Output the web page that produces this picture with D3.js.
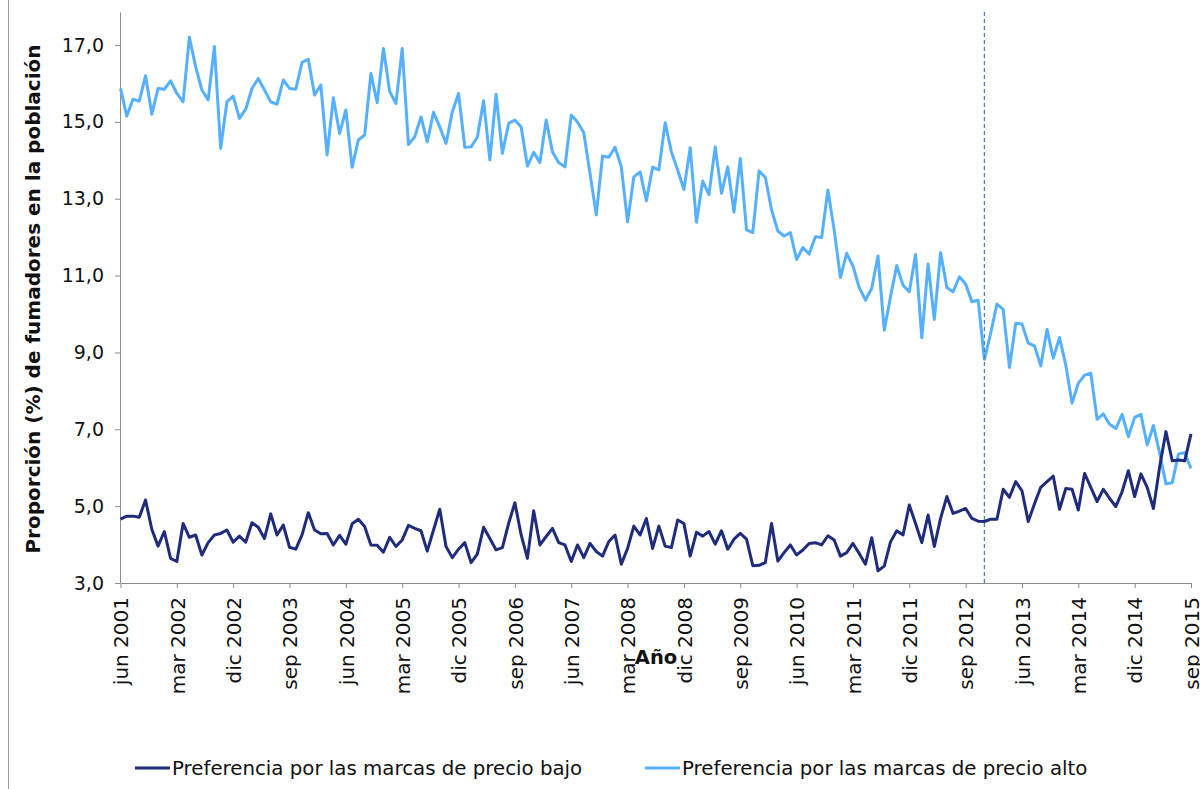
<!DOCTYPE html>
<html>
<head>
<meta charset="utf-8">
<script src="https://cdn.jsdelivr.net/npm/d3@7"></script>
<style>
  body { margin: 0; background: #fff; }
  svg { display: block; }
  text { font-family: "DejaVu Sans", Verdana, sans-serif; fill: #111; }
</style>
</head>
<body>
<svg id="chart" width="1200" height="789"></svg>
<script>
// Monthly series, jun 2001 to sep 2015
const monthNames = ["ene","feb","mar","abr","may","jun","jul","ago","sep","oct","nov","dic"];
const startYear = 2001;
const startMonthIndex = 5; // jun
const months = d3.range(172).map(i => {
  const m = startMonthIndex + i;
  return monthNames[m % 12] + " " + (startYear + Math.floor(m / 12));
});

const tickLabels = [
  "jun 2001","mar 2002","dic 2002","sep 2003","jun 2004","mar 2005","dic 2005",
  "sep 2006","jun 2007","mar 2008","dic 2008","sep 2009","jun 2010","mar 2011",
  "dic 2011","sep 2012","jun 2013","mar 2014","dic 2014","sep 2015"
];

const yTicks = [3, 5, 7, 9, 11, 13, 15, 17];

const markerMonth = "dic 2012";

const seriesNames = [
  "Preferencia por las marcas de precio bajo",
  "Preferencia por las marcas de precio alto"
];

// Low-price brand preference (%)
const precioBajo = [
  4.66,4.74,4.74,4.71,5.16,4.40,3.96,4.34,3.64,3.56,4.55,4.19,4.25,3.73,4.05,4.25,
  4.29,4.38,4.06,4.22,4.06,4.57,4.45,4.16,4.80,4.25,4.51,3.93,3.88,4.25,4.83,4.38,
  4.28,4.29,3.99,4.24,4.01,4.54,4.66,4.47,3.99,3.98,3.80,4.19,3.95,4.12,4.50,4.42,
  4.36,3.83,4.38,4.92,3.95,3.66,3.88,4.05,3.53,3.75,4.45,4.16,3.86,3.92,4.55,5.09,
  4.25,3.64,4.88,3.99,4.21,4.42,4.05,3.99,3.56,3.99,3.66,4.03,3.82,3.70,4.08,4.25,
  3.49,3.90,4.48,4.25,4.68,3.90,4.48,3.96,3.92,4.64,4.55,3.70,4.32,4.22,4.34,4.01,
  4.36,3.88,4.14,4.29,4.14,3.45,3.46,3.53,4.55,3.57,3.79,3.99,3.73,3.86,4.03,4.05,
  3.99,4.23,4.12,3.70,3.79,4.03,3.77,3.49,4.18,3.32,3.44,4.07,4.36,4.25,5.03,4.55,
  4.05,4.77,3.95,4.68,5.25,4.81,4.87,4.94,4.68,4.61,4.60,4.66,4.66,5.44,5.23,5.64,
  5.40,4.60,5.06,5.49,5.64,5.78,4.92,5.46,5.44,4.90,5.85,5.49,5.12,5.44,5.20,4.99,
  5.38,5.92,5.25,5.84,5.49,4.94,6.03,6.94,6.18,6.20,6.18,6.88
];

// High-price brand preference (%)
const precioAlto = [
  15.87,15.15,15.59,15.54,16.20,15.20,15.87,15.85,16.07,15.74,15.52,17.20,16.44,15.83,15.57,16.96,
  14.31,15.52,15.67,15.09,15.33,15.87,16.13,15.83,15.52,15.46,16.09,15.87,15.85,16.55,16.63,15.70,
  15.96,14.14,15.63,14.70,15.31,13.82,14.53,14.66,16.26,15.50,16.91,15.79,15.48,16.91,14.41,14.61,
  15.13,14.48,15.25,14.87,14.44,15.26,15.74,14.34,14.35,14.60,15.55,14.01,15.72,14.18,14.96,15.05,
  14.87,13.85,14.21,13.94,15.05,14.22,13.94,13.83,15.18,15.00,14.72,13.66,12.58,14.11,14.08,14.34,
  13.83,12.40,13.57,13.70,12.95,13.82,13.75,14.98,14.22,13.75,13.24,14.33,12.39,13.46,13.11,14.35,
  13.14,13.83,12.65,14.05,12.19,12.12,13.72,13.56,12.71,12.16,12.03,12.12,11.42,11.73,11.56,12.01,
  11.99,13.23,12.19,10.95,11.58,11.25,10.69,10.36,10.67,11.51,9.58,10.45,11.26,10.75,10.58,11.55,
  9.38,11.30,9.86,11.60,10.69,10.58,10.97,10.78,10.32,10.36,8.82,9.50,10.26,10.12,8.61,9.76,
  9.74,9.24,9.17,8.65,9.60,8.85,9.39,8.67,7.68,8.20,8.41,8.46,7.26,7.40,7.13,7.02,
  7.39,6.81,7.31,7.39,6.59,7.10,6.37,5.58,5.61,6.36,6.39,5.98
];

const colorBajo = "#1f2c7c";
const colorAlto = "#55b0ff";
const axisColor = "#8c8c8c";

const svg = d3.select("#chart");

// Outer chart frame
svg.append("rect")
  .attr("x", 8.5).attr("y", -20)
  .attr("width", 1230).attr("height", 840)
  .attr("fill", "#fff")
  .attr("stroke", "#9a9a9a")
  .attr("stroke-width", 1);

const x = d3.scalePoint().domain(months).range([120.5, 1191]);
const y = d3.scaleLinear().domain([3, 17.86]).range([583, 12]);

const fmt = d => d3.format(".1f")(d).replace(".", ",");

// Y axis
const yAxis = svg.append("g")
  .attr("transform", "translate(120,0)")
  .call(d3.axisLeft(y).tickValues(yTicks).tickFormat(fmt).tickSize(5).tickSizeOuter(0).tickPadding(11));
yAxis.select(".domain").attr("stroke", axisColor);
yAxis.selectAll(".tick line").attr("stroke", axisColor);
yAxis.selectAll(".tick text").attr("font-size", 19).attr("fill", "#111")
  .attr("font-family", "'DejaVu Sans', Verdana, sans-serif");

// X axis
const xAxis = svg.append("g")
  .attr("transform", "translate(0,583)")
  .call(d3.axisBottom(x).tickValues(tickLabels).tickSize(5).tickSizeOuter(0));
xAxis.select(".domain").attr("stroke", axisColor);
xAxis.selectAll(".tick line").attr("stroke", axisColor);
xAxis.selectAll(".tick text")
  .attr("font-size", 20).attr("fill", "#111")
  .attr("font-family", "'DejaVu Sans', Verdana, sans-serif")
  .attr("transform", "rotate(-90)")
  .attr("text-anchor", "end")
  .attr("x", -14).attr("y", 0).attr("dy", "0.36em");

// Series lines
const line = d3.line()
  .x((d, i) => x(months[i]))
  .y(d => y(d));

svg.append("path").datum(precioAlto)
  .attr("fill", "none").attr("stroke", colorAlto)
  .attr("stroke-width", 3).attr("stroke-linejoin", "round")
  .attr("d", line);

svg.append("path").datum(precioBajo)
  .attr("fill", "none").attr("stroke", colorBajo)
  .attr("stroke-width", 3).attr("stroke-linejoin", "round")
  .attr("d", line);

// Vertical marker
svg.append("line")
  .attr("x1", x(markerMonth)).attr("x2", x(markerMonth))
  .attr("y1", y(17.86)).attr("y2", y(3))
  .attr("stroke", "#4a7ebb").attr("stroke-width", 1.3)
  .attr("stroke-dasharray", "4,3");

// Axis titles
svg.append("text")
  .attr("transform", "translate(40,299) rotate(-90)")
  .attr("text-anchor", "middle")
  .attr("font-size", 20).attr("font-weight", "bold")
  .text("Proporción (%) de fumadores en la población");

svg.append("text")
  .attr("x", 656).attr("y", 664)
  .attr("text-anchor", "middle")
  .attr("font-size", 19.5).attr("font-weight", "bold")
  .text("Año");

// Legend
const legendItems = [
  { name: seriesNames[0], color: colorBajo, x: 135 },
  { name: seriesNames[1], color: colorAlto, x: 645 }
];
const lg = svg.append("g").selectAll("g").data(legendItems).join("g")
  .attr("transform", d => `translate(${d.x},768)`);
lg.append("line").attr("x1", 0).attr("x2", 35).attr("y1", 0).attr("y2", 0)
  .attr("stroke", d => d.color).attr("stroke-width", 3);
lg.append("text").attr("x", 37).attr("y", 0).attr("dy", "0.36em")
  .attr("font-size", 19.8).text(d => d.name);
</script>
</body>
</html>
